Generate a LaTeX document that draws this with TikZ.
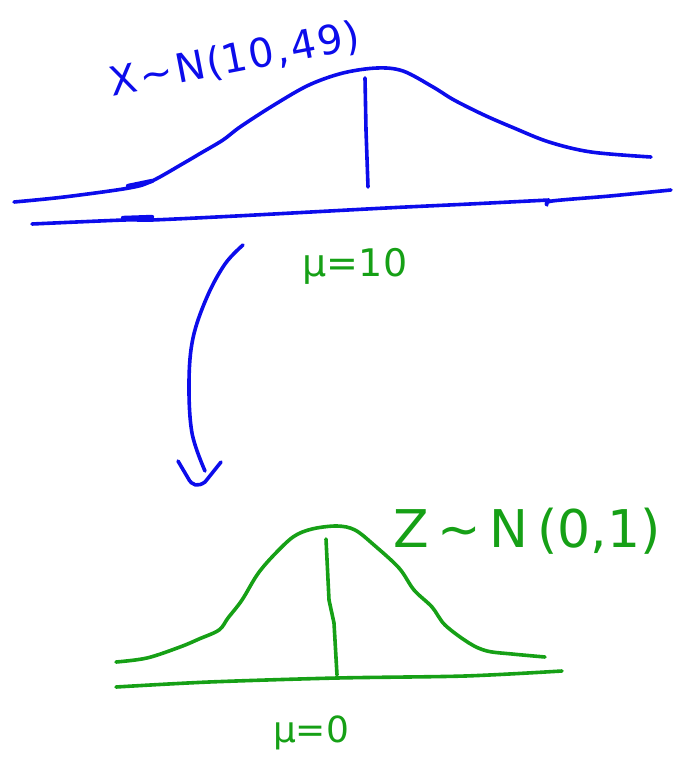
\documentclass[tikz,border=0pt]{standalone}
\usepackage{fontspec}
\setmainfont{DejaVu Sans}
\definecolor{penblue}{RGB}{12,12,235}
\definecolor{pengreen}{RGB}{22,160,22}
\tikzset{
  bluepen/.style={draw=penblue, line width=3.6pt, line cap=round, line join=round},
  greenpen/.style={draw=pengreen, line width=3.6pt, line cap=round, line join=round},
  bluetext/.style={text=penblue, inner sep=0pt},
  greentext/.style={text=pengreen, inner sep=0pt}
}
\begin{document}
\begin{tikzpicture}[x=1pt, y=-1pt]
\useasboundingbox (0,0) rectangle (672,757);
% ---------- top distribution (blue) ----------
\draw[bluepen] plot[smooth, tension=0.55] coordinates {
  (14,202) (64,197) (129,188) (152,181) (184,163) (201,153) (223,140)
  (240,127) (274,105) (309,85) (343,73) (377,68) (403,71) (433,87)
  (454,100) (484,115) (514,128) (549,142) (591,152) (651,157)};
\draw[bluepen] (365,78) -- (366,130) -- (368,187);
% axis
\draw[bluepen] plot[smooth, tension=0.5] coordinates {
  (32,224) (124,220) (152,220) (236,216) (386,208) (470,204) (549,200)};
\draw[bluepen] plot[smooth, tension=0.5] coordinates {
  (547,205) (552,201) (610,196) (671,190)};
\draw[bluepen, line width=4.4pt] (123,218) -- (152,217);
\draw[bluepen, line width=4.4pt] (128,186) -- (152,181);
% labels
\node[bluetext, rotate=11, font=\fontsize{40}{48}\selectfont] (xlab) at (235,60)
  {X\hspace{3pt}∼\hspace{3pt}N\hspace{2pt}(1\hspace{2pt}0\hspace{2pt},\hspace{2pt}4\hspace{2pt}9\hspace{2pt})};
\node[greentext, font=\fontsize{38}{44}\selectfont] (mu1) at (355,266) {μ=10};
% ---------- arrow ----------
\draw[bluepen] plot[smooth, tension=0.6] coordinates {
  (243,245) (225,264) (207,297) (193,338) (189,382) (192,433) (205,471)};
\draw[bluepen] (178,461) -- (188,478) .. controls (192,486) and (198,487) .. (205,482) -- (221,462);
% ---------- bottom distribution (green) ----------
\draw[greenpen] plot[smooth, tension=0.55] coordinates {
  (116,662) (147,658) (180,647) (199,639) (219,630) (228,618) (242,600)
  (257,575) (272,557) (293,537) (312,529) (337,526) (355,530) (374,545)
  (399,568) (414,590) (432,607) (445,625) (469,643) (487,651) (512,654) (545,657)};
\draw[greenpen] (326,539) -- (329,600) -- (334,623) -- (337,675);
\draw[greenpen] plot[smooth, tension=0.5] coordinates {
  (116,687) (209,682) (337,678) (465,676) (562,671)};
% labels
\node[greentext, font=\fontsize{52}{60}\selectfont] (zlab) at (527,531) {Z\,∼\,N\,(0,1)};
\node[greentext, font=\fontsize{36}{42}\selectfont] (mu0) at (311,733) {μ=0};
\end{tikzpicture}
\end{document}
